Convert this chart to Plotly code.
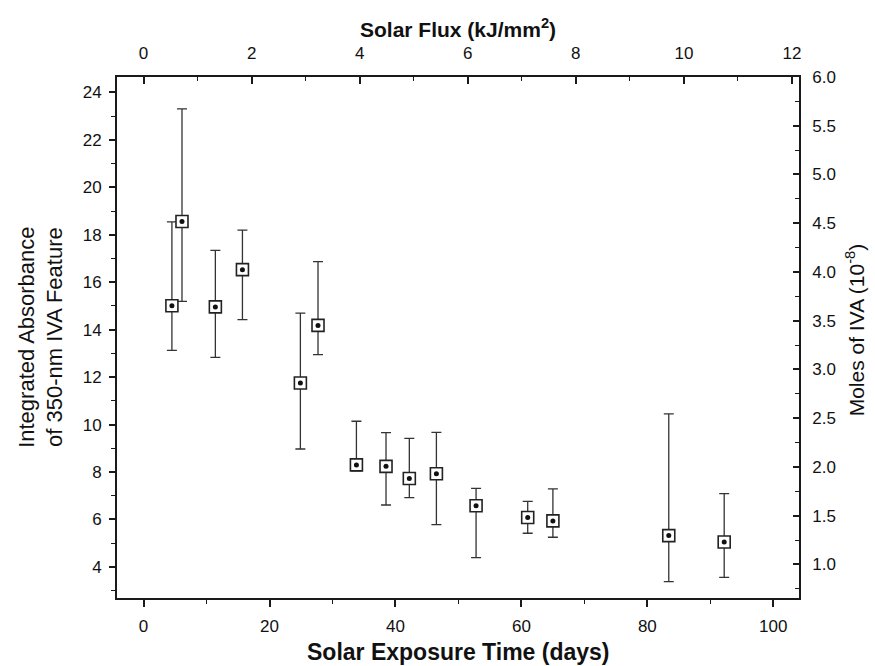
import plotly.graph_objects as go

# ---- data ----
days = [4.5, 6.1, 11.4, 15.7, 24.9, 27.7, 33.8, 38.5, 42.2, 46.5, 52.8, 61.0, 65.0, 83.4, 92.2]
absorbance = [15.01, 18.56, 14.96, 16.53, 11.75, 14.18, 8.30, 8.24, 7.73, 7.93, 6.58, 6.08, 5.94, 5.32, 5.05]
upper = [18.54, 23.31, 17.34, 18.20, 14.70, 16.87, 10.14, 9.66, 9.42, 9.67, 7.31, 6.76, 7.29, 10.45, 7.09]
lower = [13.13, 15.19, 12.83, 14.42, 8.97, 12.95, 8.05, 6.61, 6.92, 5.78, 4.39, 5.42, 5.25, 3.38, 3.56]

x_ticks = [0, 20, 40, 60, 80, 100]
flux_ticks = [0, 2, 4, 6, 8, 10, 12]
y_ticks = [4, 6, 8, 10, 12, 14, 16, 18, 20, 22, 24]
mol_ticks = [1.0, 1.5, 2.0, 2.5, 3.0, 3.5, 4.0, 4.5, 5.0, 5.5, 6.0]

# axis ranges
x_range = [-4.22, 104.08]
flux_per_day = 0.11655
y_range = [2.69, 24.65]
mol_per_abs = 0.2435

err_plus = [u - v for u, v in zip(upper, absorbance)]
err_minus = [v - l for v, l in zip(absorbance, lower)]

FONT = "Liberation Sans, Arial, sans-serif"
AX = "#1a1a1a"

fig = go.Figure()
fig.add_trace(go.Scatter(
    x=days, y=absorbance, mode="markers",
    marker=dict(symbol="square", size=12, color="white", line=dict(color="#222", width=1.6)),
    error_y=dict(type="data", symmetric=False, array=err_plus, arrayminus=err_minus,
                 color="#333", thickness=1.3, width=5),
    showlegend=False, hoverinfo="skip"))
fig.add_trace(go.Scatter(
    x=days, y=absorbance, mode="markers",
    marker=dict(symbol="circle", size=5, color="#111"),
    showlegend=False, hoverinfo="skip"))
fig.add_trace(go.Scatter(x=[None], y=[None], xaxis="x2", yaxis="y2", mode="markers",
                         showlegend=False, hoverinfo="skip"))

tickfont = dict(family=FONT, size=17, color="#111")

fig.update_layout(
    width=875, height=666,
    margin=dict(l=117, r=76, t=77, b=68),
    paper_bgcolor="white", plot_bgcolor="white",
    xaxis=dict(range=x_range, tickvals=x_ticks, ticks="outside", ticklen=7, tickwidth=1.5,
               tickcolor=AX, showline=True, linecolor=AX, linewidth=1.8, showgrid=False,
               zeroline=False, tickfont=tickfont, ticklabelstandoff=5,
               minor=dict(tick0=0, dtick=10, ticks="outside", ticklen=4, tickwidth=1.2, tickcolor=AX)),
    xaxis2=dict(range=[x_range[0] * flux_per_day, x_range[1] * flux_per_day], overlaying="x",
                side="top", tickvals=flux_ticks, ticks="inside", ticklen=7, tickwidth=1.5,
                tickcolor=AX, showline=True, linecolor=AX, linewidth=1.8, showgrid=False,
                zeroline=False, tickfont=tickfont, ticklabelstandoff=9,
                minor=dict(tick0=0, dtick=1, ticks="inside", ticklen=4, tickwidth=1.2, tickcolor=AX)),
    yaxis=dict(range=y_range, tickvals=y_ticks, ticks="outside", ticklen=6, tickwidth=1.5,
               tickcolor=AX, showline=True, linecolor=AX, linewidth=1.8, showgrid=False,
               zeroline=False, tickfont=tickfont, ticklabelstandoff=4,
               minor=dict(tick0=0, dtick=1, ticks="outside", ticklen=4, tickwidth=1.2, tickcolor=AX)),
    yaxis2=dict(range=[y_range[0] * mol_per_abs, 6.0], overlaying="y", side="right",
                tickvals=mol_ticks, tickformat=".1f", ticks="inside", ticklen=6, tickwidth=1.5,
                tickcolor=AX, showline=True, linecolor=AX, linewidth=1.8, showgrid=False,
                zeroline=False, tickfont=tickfont, ticklabelstandoff=8,
                minor=dict(tick0=0, dtick=0.25, ticks="inside", ticklen=4, tickwidth=1.2, tickcolor=AX)),
    annotations=[
        dict(text="<b>Solar Exposure Time (days)</b>", xref="paper", yref="paper",
             x=0.5, y=-0.103, xanchor="center", yanchor="middle", showarrow=False,
             font=dict(family=FONT, size=23, color="#111")),
        dict(text="<b>Solar Flux (kJ/mm<sup>2</sup>)</b>", xref="paper", yref="paper",
             x=0.5, y=1.094, xanchor="center", yanchor="middle", showarrow=False,
             font=dict(family=FONT, size=21, color="#111")),
        dict(text="Integrated Absorbance<br>of 350-nm IVA Feature", xref="paper", yref="paper",
             x=-0.1124, y=0.5, xanchor="center", yanchor="middle", showarrow=False, textangle=-90,
             font=dict(family=FONT, size=22, color="#111")),
        dict(text="Moles of IVA (10<sup>-8</sup>)", xref="paper", yref="paper",
             x=1.0816, y=0.515, xanchor="center", yanchor="middle", showarrow=False, textangle=-90,
             font=dict(family=FONT, size=21, color="#111")),
    ],
)

fig.write_html("out.html")
